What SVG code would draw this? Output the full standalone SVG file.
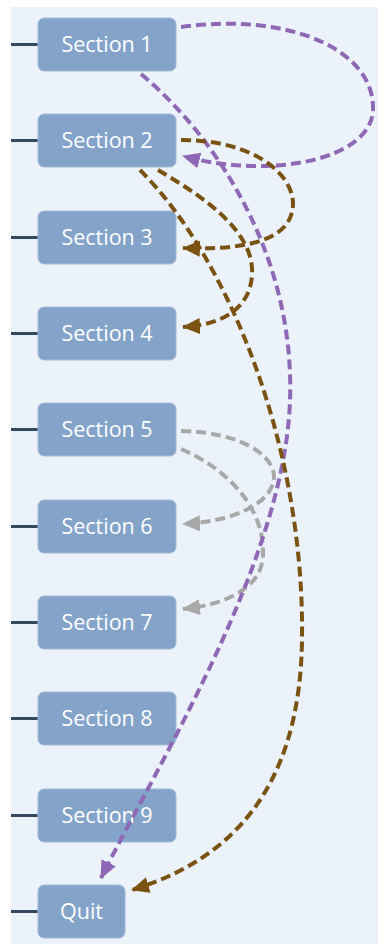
<svg xmlns="http://www.w3.org/2000/svg" width="378" height="945" viewBox="0 0 378 945">
<style>
.node rect{fill:#84A3C8;stroke:#A3BBD8;stroke-width:1}
.node text{fill:#FFFFFF;font-family:"Open Sans","Noto Sans","Liberation Sans",sans-serif;font-size:21.5px;text-anchor:middle}
.stub{stroke:#34495E;stroke-width:3}
.c{fill:none;stroke-width:4;stroke-dasharray:10 5}
.p{stroke:#8F68B5}
.b{stroke:#7A5212}
.g{stroke:#A8A8A8}
</style>
<defs>
<marker id="ap" markerUnits="userSpaceOnUse" markerWidth="19" markerHeight="17" refX="17" refY="8" orient="auto"><path d="M0,0 L18,8 L0,16 z" fill="#8F68B5"/></marker>
<marker id="ab" markerUnits="userSpaceOnUse" markerWidth="19" markerHeight="17" refX="17" refY="8" orient="auto"><path d="M0,0 L18,8 L0,16 z" fill="#7A5212"/></marker>
<marker id="ag" markerUnits="userSpaceOnUse" markerWidth="19" markerHeight="17" refX="17" refY="8" orient="auto"><path d="M0,0 L18,8 L0,16 z" fill="#A8A8A8"/></marker>
</defs>
<rect x="0" y="0" width="378" height="945" fill="#FFFFFF"/>
<rect x="11" y="7" width="367" height="937" fill="#EBF2F9"/>
<g id="stubs">
<line class="stub" x1="11" y1="44.5" x2="38" y2="44.5"/>
<line class="stub" x1="11" y1="140.5" x2="38" y2="140.5"/>
<line class="stub" x1="11" y1="237.5" x2="38" y2="237.5"/>
<line class="stub" x1="11" y1="333.5" x2="38" y2="333.5"/>
<line class="stub" x1="11" y1="429.5" x2="38" y2="429.5"/>
<line class="stub" x1="11" y1="526.5" x2="38" y2="526.5"/>
<line class="stub" x1="11" y1="622.5" x2="38" y2="622.5"/>
<line class="stub" x1="11" y1="718.5" x2="38" y2="718.5"/>
<line class="stub" x1="11" y1="815.5" x2="38" y2="815.5"/>
<line class="stub" x1="11" y1="911.5" x2="38" y2="911.5"/>
</g>
<g id="n1" class="node"><rect x="38" y="18" width="138" height="53" rx="6"/><text x="107" y="52">Section 1</text></g>
<g id="n2" class="node"><rect x="38" y="114" width="138" height="53" rx="6"/><text x="107" y="148">Section 2</text></g>
<g id="n3" class="node"><rect x="38" y="211" width="138" height="53" rx="6"/><text x="107" y="245">Section 3</text></g>
<g id="n4" class="node"><rect x="38" y="307" width="138" height="53" rx="6"/><text x="107" y="341">Section 4</text></g>
<g id="n5" class="node"><rect x="38" y="403" width="138" height="53" rx="6"/><text x="107" y="437">Section 5</text></g>
<g id="n6" class="node"><rect x="38" y="500" width="138" height="53" rx="6"/><text x="107" y="534">Section 6</text></g>
<g id="n7" class="node"><rect x="38" y="596" width="138" height="53" rx="6"/><text x="107" y="630">Section 7</text></g>
<g id="n8" class="node"><rect x="38" y="692" width="138" height="53" rx="6"/><text x="107" y="726">Section 8</text></g>
<g id="n9" class="node"><rect x="38" y="789" width="138" height="53" rx="6"/><text x="107" y="823">Section 9</text></g>
<g id="quit" class="node"><rect x="38" y="885" width="87" height="53" rx="6"/><text x="81.5" y="919">Quit</text></g>
<g id="connectors">
<path class="c g" marker-end="url(#ag)" d="M181 431 C240 432 275 455 274 478 C272 505 230 522 183 524"/>
<path class="c g" marker-end="url(#ag)" d="M181 449 C230 470 265 510 263 555 C262 590 222 605 183 609"/>
<path class="c p" marker-end="url(#ap)" d="M181 27 C290 12 375 50 373 110 C371 160 270 180 183 156"/>
<path class="c p" marker-end="url(#ap)" d="M141 74 C220 140 295 260 290 400 C285 560 160 760 101 878"/>
<path class="c b" marker-end="url(#ab)" d="M181 140 C260 140 300 180 292 212 C285 245 230 250 183 248"/>
<path class="c b" marker-end="url(#ab)" d="M158 170 C200 195 255 230 252 275 C250 310 220 325 183 327"/>
<path class="c b" marker-end="url(#ab)" d="M140 170 C230 260 305 450 302 640 C300 790 230 860 132 890"/>
</g>
</svg>
